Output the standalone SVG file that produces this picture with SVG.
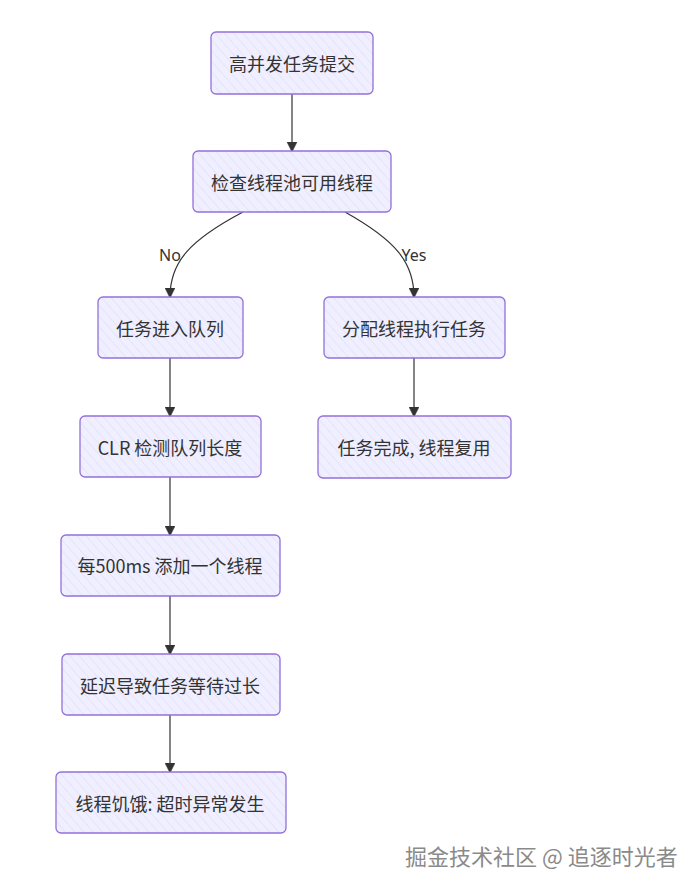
<svg xmlns="http://www.w3.org/2000/svg" width="698" height="891" viewBox="0 0 698 891">
<defs>
<pattern id="hatch" patternUnits="userSpaceOnUse" width="7" height="7" patternTransform="rotate(-41)">
<rect width="7" height="7" fill="#F0EFFF"/>
<line x1="0" y1="0" x2="0" y2="7" stroke="#dcd8f3" stroke-width="1"/>
</pattern>
<marker id="arr" viewBox="0 0 10 10" refX="9" refY="5" markerWidth="10" markerHeight="10" markerUnits="userSpaceOnUse" orient="auto">
<path d="M0,0 L10,5 L0,10 z" fill="#333" stroke="#333" stroke-width="0.5"/>
</marker>
</defs>
<style>
.node rect{fill:url(#hatch);stroke:#9370DB;stroke-width:1.3}
.node text{font-family:"Noto Sans CJK SC","Noto Sans",sans-serif;font-size:18px;fill:#333;text-anchor:middle;dominant-baseline:central}
.edges path{fill:none;stroke:#333;stroke-width:1.2}
.lbl{font-family:"Noto Sans","Noto Sans CJK SC",sans-serif;font-size:16px;fill:#333;text-anchor:middle;dominant-baseline:central}
.wm{font-family:"Noto Sans CJK SC",sans-serif;font-size:22px;fill:#8a8a8a;stroke:#ffffff;stroke-width:0.6;paint-order:stroke}
</style>
<rect width="698" height="891" fill="#ffffff"/>
<g class="edges">
<path d="M292,94 L292,151" marker-end="url(#arr)"/>
<path d="M243,212 C190,240 170,262 170,297" marker-end="url(#arr)"/>
<path d="M345,212 C395,240 414,262 414,297" marker-end="url(#arr)"/>
<path d="M170,358 L170,416" marker-end="url(#arr)"/>
<path d="M414,358 L414,416" marker-end="url(#arr)"/>
<path d="M170,477 L170,535" marker-end="url(#arr)"/>
<path d="M170,596 L170,654" marker-end="url(#arr)"/>
<path d="M170,715 L170,772" marker-end="url(#arr)"/>
</g>
<text class="lbl" x="170" y="255">No</text>
<text class="lbl" x="414" y="255">Yes</text>
<g id="n1" class="node"><rect x="211" y="32" width="162" height="62" rx="5"/><text x="292" y="63">高并发任务提交</text></g>
<g id="n2" class="node"><rect x="193" y="151" width="198" height="61" rx="5"/><text x="292" y="182">检查线程池可用线程</text></g>
<g id="n3" class="node"><rect x="98" y="297" width="145" height="61" rx="5"/><text x="170" y="328">任务进入队列</text></g>
<g id="n4" class="node"><rect x="324" y="297" width="181" height="61" rx="5"/><text x="414" y="328">分配线程执行任务</text></g>
<g id="n5" class="node"><rect x="80" y="416" width="181" height="61" rx="5"/><text x="170" y="447">CLR 检测队列长度</text></g>
<g id="n6" class="node"><rect x="318" y="416" width="193" height="62" rx="5"/><text x="414" y="447">任务完成, 线程复用</text></g>
<g id="n7" class="node"><rect x="61" y="535" width="219" height="61" rx="5"/><text x="170" y="565">每500ms 添加一个线程</text></g>
<g id="n8" class="node"><rect x="62" y="654" width="218" height="61" rx="5"/><text x="170" y="685">延迟导致任务等待过长</text></g>
<g id="n9" class="node"><rect x="56" y="772" width="230" height="61" rx="5"/><text x="170" y="803">线程饥饿: 超时异常发生</text></g>
<text class="wm" x="405" y="865">掘金技术社区 @ 追逐时光者</text>
</svg>
